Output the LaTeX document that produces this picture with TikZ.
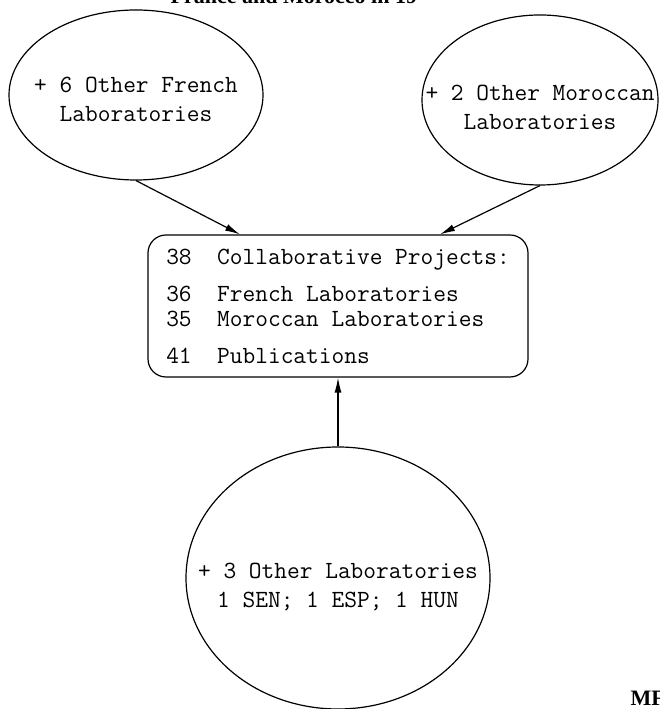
\documentclass[tikz,border=0pt]{standalone}
\usepackage{fontspec}
\setmainfont{Liberation Serif}
\usetikzlibrary{shapes.geometric, positioning, arrows.meta}

\begin{document}
\begin{tikzpicture}[x=1pt, y=1pt, on grid, line width=1.2pt,
   >={Latex[length=15pt, width=7pt]},
   lab/.style={ellipse, draw, inner sep=0pt},
   labtext/.style={align=center, inner sep=0pt, font=\ttfamily\fontsize{24.7}{29}\selectfont},
   projbox/.style={rectangle, draw, rounded corners=18pt, minimum width=380pt,
                   minimum height=142pt, align=left, font=\ttfamily\fontsize{24.7}{25}\selectfont},
   cut/.style={anchor=base west, inner sep=0pt, font=\bfseries\fontsize{22}{26}\selectfont}]
   \useasboundingbox (0,0) rectangle (659,709);

   \node[projbox, xshift=4pt] (proj) at (334,403)
      {38\ \ Collaborative Projects:\\[12pt]
       36\ \ French Laboratories\\
       35\ \ Moroccan Laboratories\\[12pt]
       41\ \ Publications};

   % partner laboratories
   \node[lab, minimum width=254pt, minimum height=170pt,
         label={[labtext, yshift=-4pt]center:+ 6 Other French\\Laboratories}]
         (l_fr) [above left=211pt and 202pt of proj] {};
   \node[lab, minimum width=236pt, minimum height=170pt,
         label={[labtext, yshift=-7pt]center:+ 2 Other Moroccan\\Laboratories}]
         (l_ma) [above right=206pt and 202pt of proj] {};
   \node[lab, minimum width=304pt, minimum height=262pt,
         label={[labtext, yshift=-9pt]center:+ 3 Other Laboratories\\1 SEN; 1 ESP; 1 HUN}]
         (l_oth) [below=272pt of proj] {};

   % cut-off texts at the edges
   \node[cut] (title) at (170,705) {France and Morocco in 19};
   \node[cut] (mf) at (630,3) {MF};

   \path[->]
    (l_fr.south) edge ([xshift=-98pt]proj.north)
    (l_ma.south) edge ([xshift=102pt]proj.north)
    (l_oth.north) edge (proj.south)
    ;
\end{tikzpicture}
\end{document}
